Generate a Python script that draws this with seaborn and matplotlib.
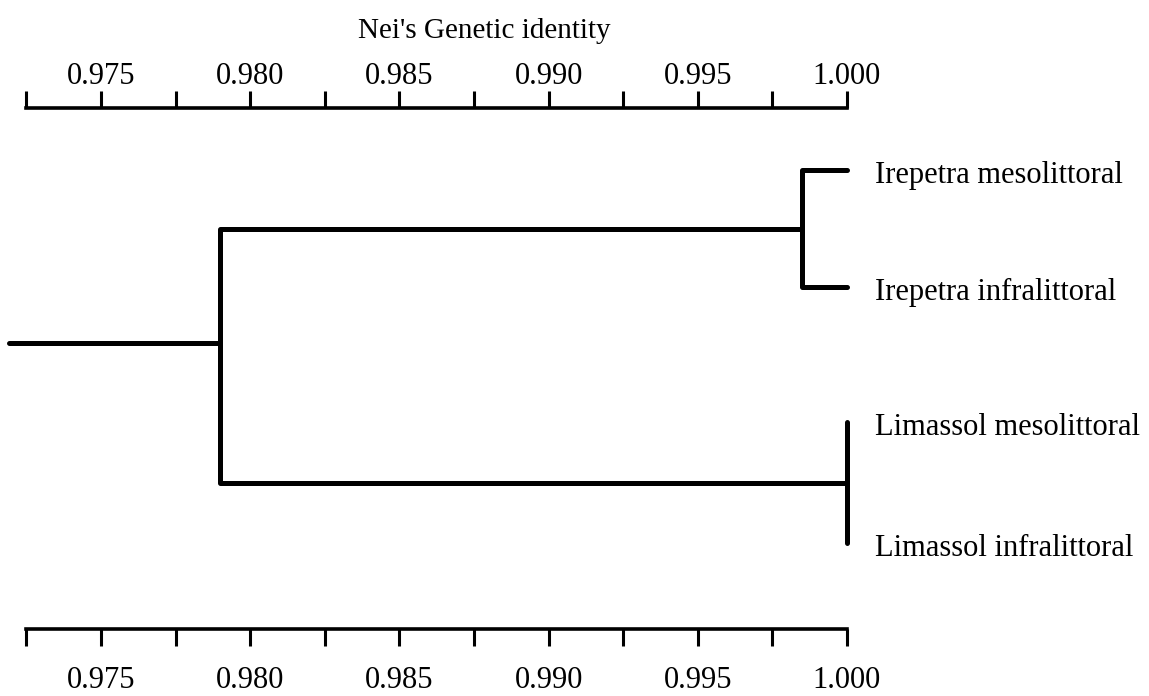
import matplotlib
matplotlib.use("Agg")
import matplotlib.pyplot as plt
import matplotlib.ticker as mticker
import pandas as pd
import seaborn as sns

# ---- data -----------------------------------------------------------------
leaves = ["Irepetra mesolittoral", "Irepetra infralittoral",
          "Limassol mesolittoral", "Limassol infralittoral"]
# Nei's genetic identity at which each pair of populations joins
irepetra_join = 0.9985
limassol_join = 1.000
root_join = 0.979
leaf_identity = 1.000

tick_values = [0.975, 0.980, 0.985, 0.990, 0.995, 1.000]
tick_labels = ["0.975", "0.980", "0.985", "0.990", "0.995", "1.000"]
minor_values = [0.9725, 0.9775, 0.9825, 0.9875, 0.9925, 0.9975]
axis_title = "Nei's Genetic identity"

# ---- layout (vertical positions in pixel rows, y grows downward) ----------
W, H = 1149, 696
leaf_rows = [170, 287, 422, 543]
root_row = 343
top_axis_row = 108
bottom_axis_row = 629
x_per_px = 0.025 / 746.0
x_left = 0.975 - 101 * x_per_px
x_right = x_left + W * x_per_px
stub_start = x_left + 9 * x_per_px

sns.set_theme(style="white")
plt.rcParams["font.family"] = ["Liberation Serif", "DejaVu Serif"]

fig = plt.figure(figsize=(W / 100, H / 100), dpi=100)
ax = fig.add_axes([0, 0, 1, 1])

# ---- build dendrogram branch polylines -------------------------------------
ire_row = (leaf_rows[0] + leaf_rows[1]) / 2
lim_row = (leaf_rows[2] + leaf_rows[3]) / 2
paths = {
    "irepetra": [(leaf_identity, leaf_rows[0]), (irepetra_join, leaf_rows[0]),
                 (irepetra_join, leaf_rows[1]), (leaf_identity, leaf_rows[1])],
    "limassol": [(limassol_join, leaf_rows[2]), (limassol_join, leaf_rows[3])],
    "main": [(irepetra_join, ire_row), (root_join, ire_row),
             (root_join, lim_row), (limassol_join, lim_row)],
    "root": [(root_join, root_row), (stub_start, root_row)],
}
rows = []
for name, pts in paths.items():
    for i, (x, y) in enumerate(pts):
        rows.append({"branch": name, "order": i, "identity": x, "row": y})
df = pd.DataFrame(rows)

sns.lineplot(data=df, x="identity", y="row", units="branch", estimator=None,
             sort=False, color="black", linewidth=3.6, ax=ax,
             solid_capstyle="round", solid_joinstyle="round")

ax.set_xlim(x_left, x_right)
ax.set_ylim(H, 0)
ax.set_xlabel("")
ax.set_ylabel("")
ax.set_yticks([])
for side in ("left", "right", "top"):
    ax.spines[side].set_visible(False)

# ---- bottom scale -----------------------------------------------------------
ax.spines["bottom"].set_position(("data", bottom_axis_row))
ax.spines["bottom"].set_bounds(minor_values[0], tick_values[-1])
ax.spines["bottom"].set_linewidth(2.6)
ax.spines["bottom"].set_color("black")
ax.xaxis.set_major_locator(mticker.FixedLocator(tick_values))
ax.xaxis.set_major_formatter(mticker.FixedFormatter(tick_labels))
ax.xaxis.set_minor_locator(mticker.FixedLocator(minor_values))
ax.tick_params(axis="x", which="both", bottom=True, top=False, direction="out",
               length=12, width=2.2, color="black")
ax.tick_params(axis="x", which="major", labelsize=22, pad=15, labelcolor="black")

# ---- top scale --------------------------------------------------------------
ax2 = ax.twiny()
ax2.set_xlim(x_left, x_right)
ax2.set_ylim(H, 0)
for side in ("left", "right", "bottom"):
    ax2.spines[side].set_visible(False)
ax2.spines["top"].set_position(("data", top_axis_row))
ax2.spines["top"].set_bounds(minor_values[0], tick_values[-1])
ax2.spines["top"].set_linewidth(2.6)
ax2.spines["top"].set_color("black")
ax2.xaxis.set_major_locator(mticker.FixedLocator(tick_values))
ax2.xaxis.set_major_formatter(mticker.FixedFormatter(tick_labels))
ax2.xaxis.set_minor_locator(mticker.FixedLocator(minor_values))
ax2.tick_params(axis="x", which="both", top=True, bottom=False, direction="out",
                length=12, width=2.2, color="black")
ax2.tick_params(axis="x", which="major", labelsize=22, pad=0, labelcolor="black")
ax2.grid(False)
ax.grid(False)

ax.text(x_left + 484 * x_per_px, 31, axis_title, ha="center", va="center",
        fontsize=21, color="black")

# ---- leaf labels ------------------------------------------------------------
for name, row in zip(leaves, leaf_rows):
    ax.annotate(name, xy=(leaf_identity, row), xytext=(20, -4),
                textcoords="offset points", ha="left", va="center",
                fontsize=22, color="black")

fig.savefig("out.png", dpi=100)
